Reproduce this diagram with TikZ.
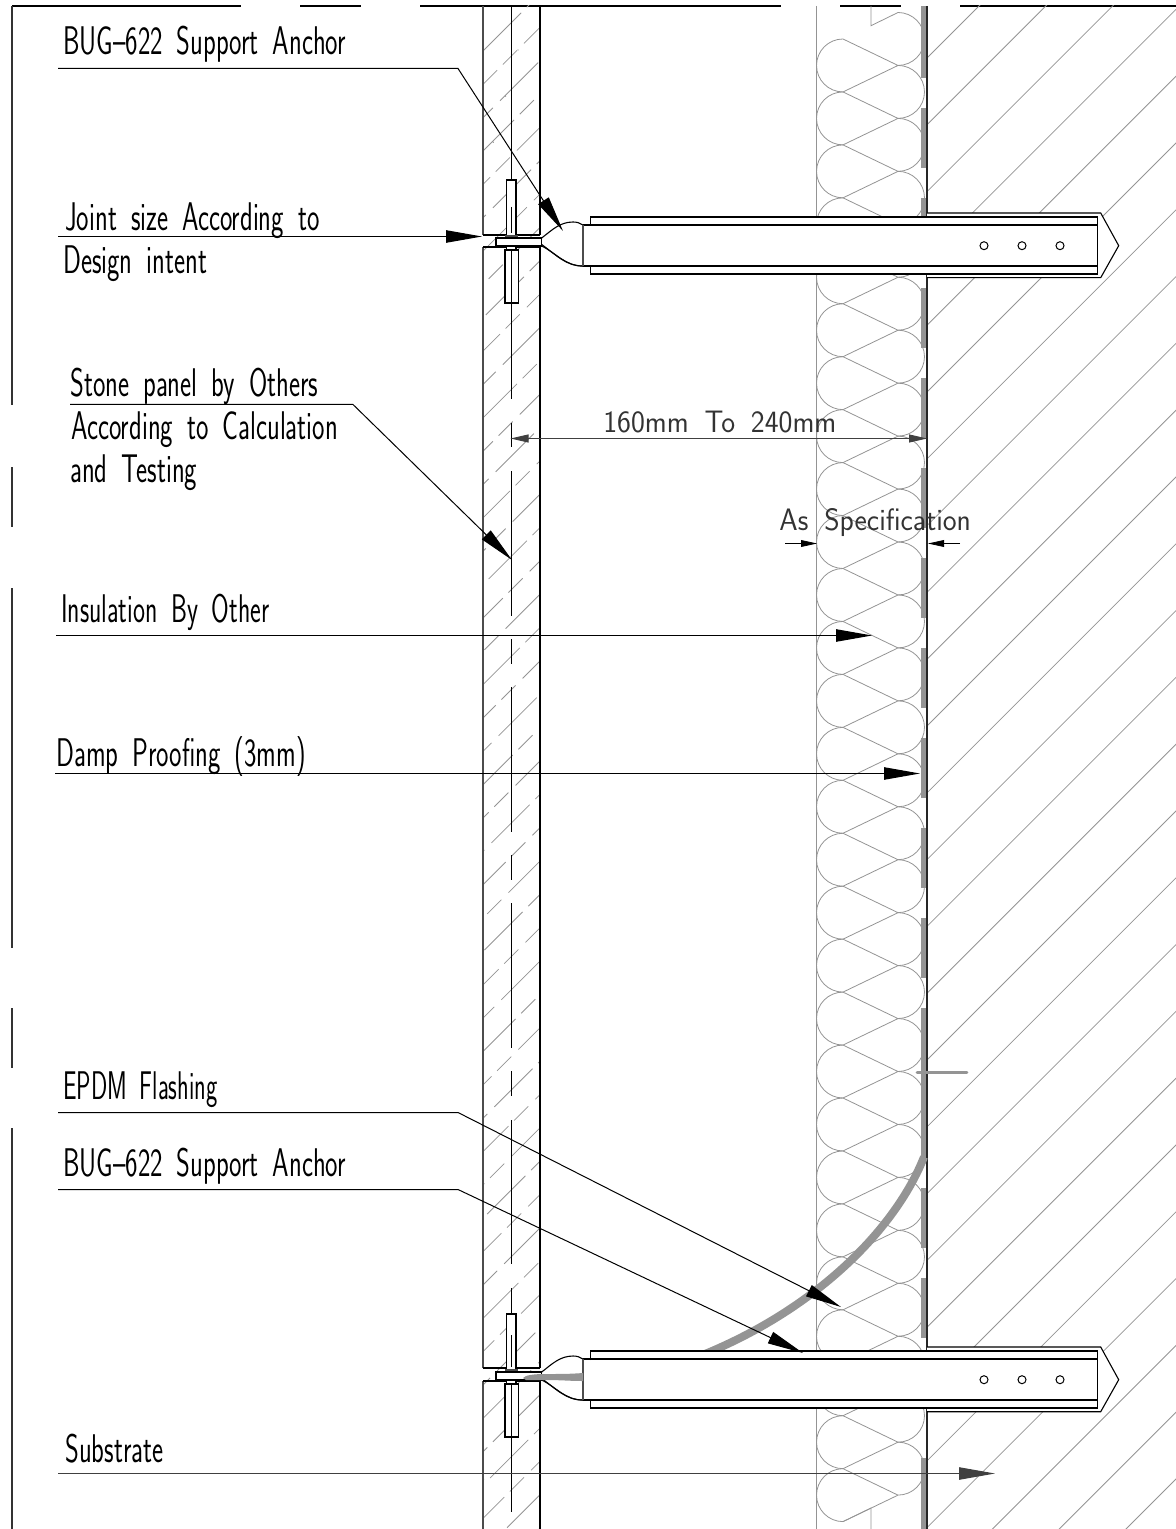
\documentclass[tikz,border=0pt]{standalone}
\usepackage{fontspec}
\usetikzlibrary{arrows.meta}
\newcommand{\notefont}{\sffamily\fontsize{20}{24}\selectfont\spaceskip=0.53em\relax}
\newcommand{\dimfont}{\sffamily\fontsize{15.5}{18}\selectfont\spaceskip=0.54em\relax}

\begin{document}
\begin{tikzpicture}%
  [x=0.5pt,y=-0.5pt,
   >={Triangle[length=18pt,width=6.2pt]},
   border/.style={black,line width=0.55pt},
   thinhatch/.style={black!42,line width=0.4pt},
   batt/.style={black!42,line width=0.4pt},
   damp/.style={black!42,line width=3.2pt},
   outline/.style={black,line width=0.55pt},
   lead/.style={black,line width=0.5pt,->},
   dimline/.style={black!75,line width=0.45pt},
   note/.style={anchor=base west,inner sep=0pt,xscale=0.66,font=\notefont},
   dimtext/.style={anchor=base west,inner sep=0pt,xscale=0.95,black!80,font=\dimfont},
  ]
\useasboundingbox (0,0) rectangle (1176,1529);

% sheet border
\foreach \xa/\xb in {12/241,300/361,420/781,840/901,960/1176}
  \draw[border] (\xa,6) -- (\xb,6);
\foreach \ya/\yb in {6/405,467/527,588/948,1008/1068,1128/1529}
  \draw[border,black!80] (12,\ya) -- (12,\yb);

% stone hatch
\begin{scope}
  \clip (483,6) rectangle (540,1529);
  \foreach \i in {0,...,48}
    \pgfmathsetmacro{\yh}{51+33.35*\i}
    \pgfmathsetmacro{\ph}{mod(\i*17,46)}
    \draw[thinhatch,dash pattern=on 27pt off 4pt on 10pt off 5pt,dash phase=\ph pt]
      (483,\yh) -- ++(57,-57);
  \foreach \i in {0,...,32}
    \pgfmathsetmacro{\yh}{50+46.1*\i}
    \pgfmathsetmacro{\xh}{485+mod(33-12.4*\i,50)}
    \fill[black!50] (\xh,\yh) circle (0.35pt);
\end{scope}

% stone panels
\draw[black!70,line width=0.9pt] (483,6) -- (483,235)
  (483,247) -- (483,1368) (483,1381) -- (483,1529);
\draw[outline] (483,235) -- (540,235) (483,247) -- (540,247)
  (483,1368) -- (540,1368) (483,1381) -- (540,1381);
\draw[outline,line width=0.7pt] (540,6) -- (540,235)
  (540,247) -- (540,1368) (540,1381) -- (540,1529);

% substrate hatch
\begin{scope}
  \clip (927,6) rectangle (1176,1529);
  \foreach \i in {0,...,26}
    \pgfmathsetmacro{\yh}{58+66.8*\i}
    \draw[thinhatch] (927,\yh) -- ++(260,-260);
\end{scope}

% insulation
\draw[batt] (816,6) -- (816,1529);
\begin{scope}
  \clip (800,6) rectangle (930,1529);
  \draw[batt] (871,6) -- (871,25.7) -- (898,12.5);
  \draw[batt] (843,1521.6) -- (871,1508) -- (871,1529);
  \foreach \i in {0,...,27}
    \pgfmathsetmacro{\yl}{39+52.95*\i}
    \pgfmathsetmacro{\yr}{12.5+52.95*\i}
    \draw[batt] (843,\yl) arc[start angle=270,end angle=90,radius=26.47]
      (898,\yr) arc[start angle=-90,end angle=90,radius=26.47]
      (843,\yl) -- (898,\yl+26.47) -- (843,\yl+52.95);
\end{scope}

% wall face and damp proofing
\foreach \ya/\yb in {6/78,108/168,198/258,288/348,378/438,468/528,558/618,
  648/708,738/798,828/888,918/978,1008/1160,1188/1248,1278/1338,1458/1529}
  \draw[damp] (924,\ya) -- (924,\yb);
\draw[black!85,line width=0.8pt] (927,6) -- (927,1529);
\draw[black!42,line width=1.4pt,line cap=round] (917,1072.7) -- (967,1072.7);

% flashing
\draw[black!42,line width=4pt] (924,1157) .. controls (895,1230) and (815,1310) .. (700,1356);

% anchors
\foreach \ay in {0,1134} {
  \fill[white] (583,217+\ay) rectangle (1098,274+\ay);
  \draw[outline,fill=white] (927,213+\ay) -- (1100.7,213+\ay) -- (1118.7,245.7+\ay)
    -- (1100.7,277.7+\ay) -- (927,277.7+\ay);
  \fill[white] (583,217+\ay) rectangle (1098,274+\ay);
  \draw[outline] (590.7,226+\ay) -- (590.7,217+\ay) -- (1097.5,217+\ay) -- (1097.5,274+\ay)
    -- (590.7,274+\ay) -- (590.7,265+\ay);
  \draw[outline] (583,225+\ay) -- (1097.5,225+\ay)
    (583,266+\ay) -- (1097.5,266+\ay);
  \foreach \xc in {984,1022,1060}
    \draw[outline,line width=0.5pt] (\xc,245.7+\ay) circle (4);
  \draw[outline,fill=white] (506.7,180+\ay) rectangle (516,236+\ay);
  \draw[outline,fill=white] (505,250+\ay) rectangle (518.3,303+\ay);
  \draw[outline,fill=white] (506.7,246+\ay) rectangle (516,250+\ay);
  \fill[black!70] (504.5,235+\ay) rectangle (518,238+\ay);
  \draw[outline,fill=white] (496,238+\ay) rectangle (541.7,246+\ay);
  \draw[outline] (541.7,238+\ay) .. controls (552,230+\ay) and (560,222+\ay) .. (573,222+\ay)
    .. controls (577,222+\ay) and (580,223+\ay) .. (583,225+\ay);
  \draw[outline] (541.7,246+\ay) .. controls (556,253+\ay) and (565,266+\ay) .. (583,266+\ay);
  \draw[outline] (541.7,244.5+\ay) .. controls (556,255+\ay) and (567,266.5+\ay) .. (583,266+\ay);
  \draw[black!70,line width=0.6pt] (583,225+\ay) -- (583,266+\ay);
}
\fill[black!42] (523,1378) .. controls (525,1375) and (535,1374) .. (545,1374)
  .. controls (560,1374) and (570,1374) .. (583,1373) -- (583,1381)
  .. controls (570,1381) and (560,1380) .. (548,1380) -- (526,1380) -- cycle;

% stone centre line
\foreach \ya/\yb in {6/180,207/233,251/399,423/447,471/616,639/664,687/832,855/880,
  903/1048,1071/1096,1120/1264,1288/1314,1335/1367,1385/1512}
  \draw[black,line width=0.5pt] (511.5,\ya) -- (511.5,\yb);

% notes and leaders
\node[note] (bugtop) at (63,55) {BUG--622 Support Anchor};
\coordinate (bugtopa) at (58,68.5);
\coordinate (bugtopb) at (458,68.5);
\coordinate (bugtopc) at (563,231);
\draw[lead] (bugtopa) -- (bugtopb) -- (bugtopc);

\node[note] (joint) at (65,231) {Joint size According to};
\node[note] (design) at (63,274) {Design intent};
\coordinate (jointa) at (58,236.5);
\coordinate (jointb) at (482,236.5);
\draw[lead] (jointa) -- (jointb);

\node[note] (stone) at (70,397) {Stone panel by Others};
\node[note] (calc) at (71,439) {According to Calculation};
\node[note] (test) at (70,482) {and Testing};
\coordinate (stonea) at (70,404.5);
\coordinate (stoneb) at (353,404.5);
\coordinate (stonec) at (512,560);
\draw[lead] (stonea) -- (stoneb) -- (stonec);

\node[note,xscale=0.967] (insul) at (61,622) {Insulation By Other};
\coordinate (insula) at (56,635.5);
\coordinate (insulb) at (872,635.5);
\draw[lead] (insula) -- (insulb);

\node[note] (dampp) at (56,766) {Damp Proofing (3mm)};
\coordinate (dampa) at (55,773.5);
\coordinate (dampb) at (920,773.5);
\draw[lead] (dampa) -- (dampb);

\node[note,xscale=0.91] (epdm) at (63,1099) {EPDM Flashing};
\coordinate (epdma) at (58,1112.5);
\coordinate (epdmb) at (458,1112.5);
\coordinate (epdmc) at (841,1307);
\draw[lead] (epdma) -- (epdmb) -- (epdmc);

\node[note] (buglow) at (63,1176) {BUG--622 Support Anchor};
\coordinate (buglowa) at (58,1189.5);
\coordinate (buglowb) at (458,1189.5);
\coordinate (buglowc) at (803,1353);
\draw[lead] (buglowa) -- (buglowb) -- (buglowc);

\node[note] (subs) at (65,1462) {Substrate};
\coordinate (subsa) at (58,1473.5);
\coordinate (subsb) at (995,1473.5);
\draw[lead,black!75] (subsa) -- (subsb);

% dimensions
\node[dimtext] (span) at (603,433) {160mm To 240mm};
\coordinate (spana) at (510.5,438.5);
\coordinate (spanb) at (927,438.5);
\draw[dimline,>={Triangle[length=9pt,width=4pt]},<->] (spana) -- (spanb);

\node[dimtext] (spec) at (779,530) {As Specification};
\coordinate (speca) at (785,543.5);
\coordinate (specb) at (817,543.5);
\coordinate (specc) at (960,543.5);
\coordinate (specd) at (928,543.5);
\draw[black,line width=0.4pt,>={Triangle[length=8pt,width=3.4pt]},->] (speca) -- (specb);
\draw[black,line width=0.4pt,>={Triangle[length=8pt,width=3.4pt]},->] (specc) -- (specd);
\end{tikzpicture}
\end{document}
